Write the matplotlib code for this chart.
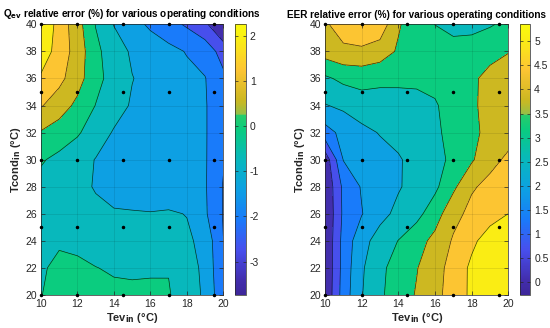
import matplotlib

matplotlib.use("Agg")
import matplotlib.pyplot as plt
import numpy as np
from matplotlib.cm import ScalarMappable
from matplotlib.colors import LinearSegmentedColormap, Normalize

plt.rcParams["font.family"] = ["Liberation Sans", "DejaVu Sans"]

# interpolated maps (rows: Tcond_in, columns: Tev_in)
tev_grid = [10, 11, 12, 13, 14, 15, 16, 17, 18, 19, 20]
tcond_grid = [20, 22, 24, 26, 28, 30, 32, 34, 36, 38, 40]

qev_err = [
    [-0.43, -0.20, -0.20, -0.25, -0.30, -0.30, -0.30, -0.35, -0.85, -1.15, -2.30],
    [-0.50, -0.25, -0.30, -0.40, -0.47, -0.50, -0.48, -0.45, -0.85, -1.20, -2.40],
    [-0.60, -0.50, -0.55, -0.65, -0.70, -0.75, -0.80, -0.85, -0.95, -1.30, -2.40],
    [-0.55, -0.65, -0.80, -0.95, -1.04, -1.04, -1.05, -1.00, -1.10, -1.65, -2.45],
    [-0.60, -0.75, -0.92, -1.12, -1.22, -1.32, -1.42, -1.52, -1.60, -1.68, -2.45],
    [-0.35, -0.57, -0.84, -1.10, -1.20, -1.30, -1.41, -1.52, -1.62, -1.68, -2.35],
    [0.20, -0.06, -0.33, -0.77, -1.13, -1.25, -1.37, -1.49, -1.60, -1.68, -2.30],
    [0.97, 0.57, 0.10, -0.43, -0.83, -1.14, -1.29, -1.44, -1.58, -1.68, -2.30],
    [1.50, 1.10, 0.52, -0.20, -0.68, -1.06, -1.24, -1.41, -1.58, -1.72, -2.25],
    [1.95, 1.32, 0.63, -0.24, -0.79, -1.16, -1.36, -1.56, -1.78, -2.00, -2.70],
    [2.20, 1.33, 0.52, -0.44, -1.10, -1.50, -1.86, -2.17, -2.50, -2.95, -3.74],
]

eer_err = [
    [-0.20, 1.27, 2.20, 2.76, 3.16, 3.53, 3.93, 4.36, 4.85, 5.10, 5.25],
    [-0.22, 1.22, 2.15, 2.72, 3.11, 3.45, 3.87, 4.33, 4.85, 5.15, 5.33],
    [-0.24, 1.20, 2.01, 2.50, 2.87, 3.23, 3.66, 4.17, 4.60, 5.00, 5.30],
    [-0.25, 1.10, 1.58, 2.04, 2.39, 2.68, 3.19, 3.92, 4.26, 4.50, 4.73],
    [-0.20, 1.12, 1.66, 1.92, 2.18, 2.45, 2.73, 3.35, 4.04, 4.25, 4.45],
    [-0.05, 1.63, 1.80, 1.99, 2.18, 2.42, 2.68, 2.98, 3.40, 3.95, 4.20],
    [1.35, 1.80, 2.05, 2.27, 2.40, 2.56, 2.77, 3.01, 3.34, 3.65, 3.90],
    [2.20, 2.35, 2.60, 2.58, 2.62, 2.68, 2.80, 3.10, 3.38, 3.68, 3.90],
    [2.75, 3.00, 3.05, 3.00, 2.98, 2.97, 3.02, 3.20, 3.38, 3.65, 3.85],
    [3.75, 3.95, 4.00, 3.80, 3.40, 3.20, 3.10, 3.05, 3.10, 3.30, 3.45],
    [4.00, 4.45, 4.55, 4.50, 3.55, 3.10, 2.85, 2.70, 2.70, 2.80, 3.00],
]

# measured operating points
tev_points = [10, 12, 14.5, 17, 19.5]
tcond_points = [20, 25, 30, 35, 40]

qev_limits = (-3.74, 2.25)
eer_limits = (-0.26, 5.35)
qev_ticks = [-3, -2, -1, 0, 1, 2]
eer_ticks = [0, 0.5, 1, 1.5, 2, 2.5, 3, 3.5, 4, 4.5, 5]

# parula-like map with the green/olive jump seen on both colorbars
cmap = LinearSegmentedColormap.from_list(
    "parula_like",
    [
        (0.000, (0.24, 0.15, 0.60)),
        (0.055, (0.26, 0.18, 0.68)),
        (0.166, (0.28, 0.31, 0.93)),
        (0.278, (0.10, 0.48, 0.98)),
        (0.389, (0.05, 0.63, 0.89)),
        (0.500, (0.03, 0.72, 0.74)),
        (0.610, (0.04, 0.80, 0.50)),
        (0.664, (0.15, 0.80, 0.42)),
        (0.668, (0.58, 0.75, 0.28)),
        (0.720, (0.80, 0.72, 0.13)),
        (0.833, (0.99, 0.77, 0.20)),
        (0.944, (0.98, 0.93, 0.08)),
        (1.000, (0.98, 0.98, 0.05)),
    ],
)

TXT = (0.15, 0.15, 0.15)


def draw_panel(fig, rect, cbar_rect, z, limits, ticks, title, pad):
    ax = fig.add_axes(rect)
    cax = fig.add_axes(cbar_rect)
    X, Y = np.meshgrid(tev_grid, tcond_grid)
    z = np.asarray(z)
    levels = np.linspace(limits[0], limits[1], 10)
    norm = Normalize(vmin=limits[0], vmax=limits[1])
    ax.contourf(X, Y, z, levels=levels, cmap=cmap, norm=norm, extend="both")
    ax.contour(X, Y, z, levels=levels[1:-1], colors="k", linewidths=0.5,
               linestyles="solid", alpha=0.75)
    px, py = np.meshgrid(tev_points, tcond_points)
    ax.plot(px.ravel(), py.ravel(), "k.", ms=3, clip_on=False, zorder=5)

    ax.set_xlim(10, 20)
    ax.set_ylim(20, 40)
    ax.set_xticks(range(10, 21, 2))
    ax.set_yticks(range(20, 41, 2))
    ax.grid(True, color="k", alpha=0.12, linewidth=0.5)
    ax.set_axisbelow(False)
    ax.tick_params(direction="in", length=3, width=0.5, labelsize=7.5,
                   colors=TXT, top=True, right=True, pad=3)
    for s in ax.spines.values():
        s.set_linewidth(0.5)
        s.set_color(TXT)
    ax.set_xlabel(r"Tev$_{\mathbf{in}}$ (°C)", fontsize=8, fontweight="bold",
                  color=TXT, labelpad=1)
    ax.set_ylabel(r"Tcond$_{\mathbf{in}}$ (°C)", fontsize=8, fontweight="bold",
                  color=TXT, labelpad=1.5)
    ax.set_title(title, fontsize=7.2, fontweight="bold", pad=pad)

    cb = fig.colorbar(ScalarMappable(norm=norm, cmap=cmap), cax=cax)
    cb.set_ticks(ticks)
    cb.set_ticklabels([f"{t:g}" for t in ticks])
    cb.outline.set_linewidth(0.5)
    cb.outline.set_edgecolor(TXT)
    cax.tick_params(direction="in", length=2.5, width=0.5, labelsize=7.5,
                    colors=TXT, left=True, right=True, pad=3)
    return ax


fig = plt.figure(figsize=(5.5, 3.28), dpi=100)
draw_panel(fig, [0.0745, 0.1006, 0.3315, 0.8253], [0.4273, 0.1006, 0.0195, 0.8253],
           qev_err, qev_limits, qev_ticks,
           r"Q$_{\mathbf{ev}}$ relative error (%) for various operating conditions", 5.5)
draw_panel(fig, [0.5909, 0.1006, 0.3333, 0.8253], [0.9455, 0.1006, 0.0182, 0.8253],
           eer_err, eer_limits, eer_ticks,
           "EER relative error (%) for various operating conditions", 4.2)
fig.savefig("out.png", dpi=100)
